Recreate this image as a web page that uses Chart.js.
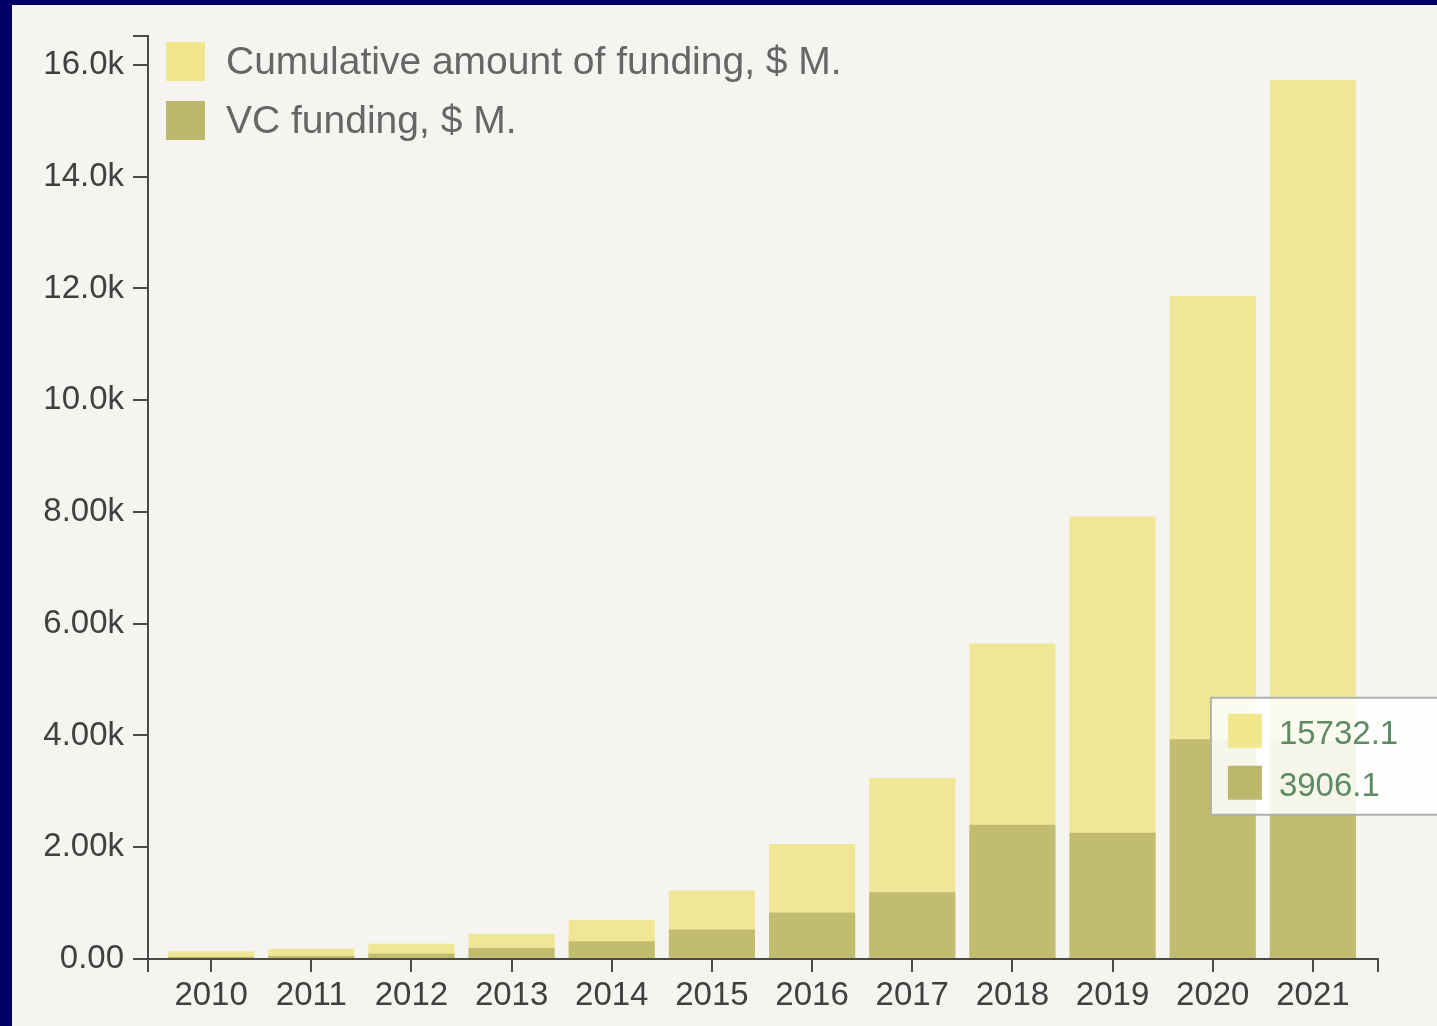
<!DOCTYPE html>
<html>
<head>
<meta charset="utf-8">
<script src="https://cdn.jsdelivr.net/npm/chart.js@4.4.1/dist/chart.umd.min.js"></script>
<style>
    html, body { margin: 0; padding: 0; background: #000066; overflow: hidden; }
    #wrap { position: absolute; left: 12px; top: 5px; width: 1425px; height: 1021px; background: #f5f4f0; }
    canvas { display: block; }
</style>
</head>
<body>
<div id="wrap"><canvas id="fundingChart" width="1425" height="1021"></canvas></div>
<script>
var years = [2010, 2011, 2012, 2013, 2014, 2015, 2016, 2017, 2018, 2019, 2020, 2021];
var cumulativeFunding = [138, 185, 272, 450, 700, 1225, 2057, 3240, 5645, 7920, 11864, 15732.1];
var vcFunding = [42, 58, 97, 198, 318, 527, 832, 1196, 2402, 2260, 3932, 3906.1];
var seriesLabels = ['Cumulative amount of funding, $ M.', 'VC funding, $ M.'];
var yTicks = [0, 2000, 4000, 6000, 8000, 10000, 12000, 14000, 16000];

var khaki = 'rgb(240, 230, 140)';
var darkKhaki = 'rgb(189, 183, 107)';
var axisColor = '#4a4a4a';
var fontFamily = '"Liberation Sans", Arial, sans-serif';

// d3 ".3s" style labels: 0.00, 2.00k, 10.0k
function formatK(v) {
    if (v === 0) return '0.00';
    return (v / 1000).toPrecision(3) + 'k';
}

// Axis end ticks, legend inside the plot, and the hover box for 2021
var overlayPlugin = {
    id: 'overlay',
    afterDraw: function (chart) {
        var c = chart.ctx;
        var area = chart.chartArea;
        var xs = chart.scales.x;
        var ys = chart.scales.y;

        c.save();
        c.strokeStyle = axisColor;
        c.lineWidth = 2;
        c.beginPath();
        // outer ticks of the axes
        c.moveTo(area.left, area.bottom);
        c.lineTo(area.left, area.bottom + 13);
        c.moveTo(area.right, area.bottom);
        c.lineTo(area.right, area.bottom + 13);
        c.moveTo(area.left, area.top);
        c.lineTo(area.left - 15, area.top);
        c.stroke();

        // legend
        var swatches = [khaki, darkKhaki];
        c.font = '39px ' + fontFamily;
        c.textBaseline = 'middle';
        c.textAlign = 'left';
        for (var i = 0; i < seriesLabels.length; i++) {
            var sx = area.left + 18;
            var sy = area.top + 6 + i * 59;
            c.fillStyle = swatches[i];
            c.fillRect(sx, sy, 39, 39);
            c.fillStyle = '#666666';
            c.fillText(seriesLabels[i], sx + 60, sy + 21);
        }

        // hover box for the last year
        var idx = years.length - 1;
        var bx = xs.getPixelForValue(years[idx]) - 102;
        var by = ys.getPixelForValue(vcFunding[idx]) - 43;
        var bw = 260, bh = 117;
        c.fillStyle = 'rgba(255, 255, 255, 0.85)';
        c.fillRect(bx, by, bw, bh);
        c.strokeStyle = '#b0b0b0';
        c.lineWidth = 2;
        c.strokeRect(bx, by, bw, bh);
        var vals = [cumulativeFunding[idx], vcFunding[idx]];
        c.font = '33px ' + fontFamily;
        for (var j = 0; j < vals.length; j++) {
            var ty = by + 16 + j * 52;
            c.fillStyle = swatches[j];
            c.fillRect(bx + 17, ty, 34, 34);
            c.fillStyle = '#5e8a64';
            c.fillText(vals[j].toFixed(1), bx + 68, ty + 21);
        }
        c.restore();
    }
};

var ctx = document.getElementById('fundingChart').getContext('2d');
var fundingChart = new Chart(ctx, {
    type: 'bar',
    data: {
        labels: years,
        datasets: [{
            label: seriesLabels[0],
            data: cumulativeFunding,
            backgroundColor: 'rgba(240, 230, 140, 0.9)',
            borderWidth: 0,
            grouped: false,
            order: 1
        }, {
            label: seriesLabels[1],
            data: vcFunding,
            backgroundColor: 'rgba(189, 183, 107, 0.9)',
            borderWidth: 0,
            grouped: false,
            order: 0
        }]
    },
    options: {
        responsive: false,
        animation: false,
        categoryPercentage: 1,
        barPercentage: 0.86,
        layout: {
            padding: { top: 31, right: 59, left: 0, bottom: 0 }
        },
        plugins: {
            legend: { display: false },
            tooltip: { enabled: false }
        },
        scales: {
            x: {
                type: 'linear',
                offset: false,
                min: years[0] - 0.63,
                max: years[years.length - 1] + 0.65,
                afterFit: function (scale) { scale.height = 67; },
                afterBuildTicks: function (scale) {
                    scale.ticks = years.map(function (y) { return { value: y }; });
                },
                border: { display: true, color: axisColor, width: 2 },
                grid: {
                    offset: false,
                    drawOnChartArea: false,
                    drawTicks: true,
                    tickLength: 13,
                    color: axisColor,
                    lineWidth: 2
                },
                ticks: {
                    autoSkip: false,
                    maxRotation: 0,
                    padding: 4,
                    color: '#404040',
                    font: { size: 33, family: fontFamily },
                    callback: function (v) { return String(v); }
                }
            },
            y: {
                min: 0,
                max: cumulativeFunding[cumulativeFunding.length - 1] * 1.05,
                afterFit: function (scale) { scale.width = 136; },
                afterBuildTicks: function (scale) {
                    scale.ticks = yTicks.map(function (v) { return { value: v }; });
                },
                border: { display: true, color: axisColor, width: 2 },
                grid: {
                    drawOnChartArea: false,
                    drawTicks: true,
                    tickLength: 15,
                    color: axisColor,
                    lineWidth: 2
                },
                ticks: {
                    autoSkip: false,
                    padding: 9,
                    color: '#404040',
                    font: { size: 33, family: fontFamily },
                    callback: function (v) { return formatK(v); }
                }
            }
        }
    },
    plugins: [overlayPlugin]
});
</script>
</body>
</html>
